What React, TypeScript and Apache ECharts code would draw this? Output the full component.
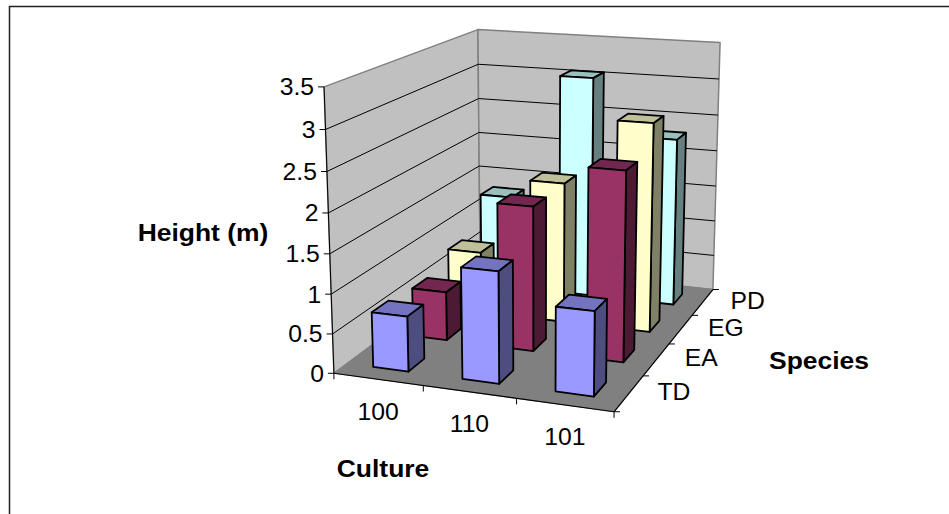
import React, { useEffect, useRef } from "react";
import * as echarts from "echarts";

const cultures = ["100", "110", "101"];
const species = ["TD", "EA", "EG", "PD"];
const valueTicks = [0, 0.5, 1, 1.5, 2, 2.5, 3, 3.5];
const maxValue = 3.5;

const tdHeights = [0.7, 1.39, 1.04];
const eaHeights = [0.64, 1.87, 2.42];
const egHeights = [0.83, 1.88, 2.76];
const pdHeights = [1.3, 3.06, 2.3];
const heights = [tdHeights, eaHeights, egHeights, pdHeights];

const faceColors = ["#9999FF", "#993366", "#FFFFCC", "#CCFFFF"];
const topColors = ["#7373BF", "#732650", "#BFBF99", "#99BFBF"];
const sideColors = ["#4D4D80", "#4D1A33", "#808066", "#668080"];

const barFraction = 0.4;
const FONT = '"Liberation Sans", Arial, sans-serif';

// Calibration of the 3D box: [culture 0..1, species 0..1, height 0..1] -> screen pixel
const calibration: number[][] = [
  [0, 0, 0, 334, 372],
  [0, 0, 1, 324, 87],
  [0, 1, 0, 480, 266],
  [0, 1, 1, 478, 29],
  [1, 1, 0, 713, 288],
  [1, 1, 1, 720, 43],
  [1, 0, 0, 614, 413],
];

function solveCamera(pts: number[][]): number[] {
  const rows: number[][] = [];
  const rhs: number[] = [];
  for (const [X, Y, Z, px, py] of pts) {
    const x = px / 500;
    const y = py / 500;
    rows.push([X, Y, Z, 1, 0, 0, 0, 0, -x * X, -x * Y, -x * Z]);
    rhs.push(x);
    rows.push([0, 0, 0, 0, X, Y, Z, 1, -y * X, -y * Y, -y * Z]);
    rhs.push(y);
  }
  const n = 11;
  const m: number[][] = [];
  for (let i = 0; i < n; i++) {
    const r: number[] = [];
    for (let j = 0; j < n; j++) {
      let s = 0;
      rows.forEach((row) => (s += row[i] * row[j]));
      r.push(s);
    }
    let b = 0;
    rows.forEach((row, k) => (b += row[i] * rhs[k]));
    r.push(b);
    m.push(r);
  }
  for (let c = 0; c < n; c++) {
    let best = c;
    for (let r = c + 1; r < n; r++) if (Math.abs(m[r][c]) > Math.abs(m[best][c])) best = r;
    [m[c], m[best]] = [m[best], m[c]];
    for (let r = 0; r < n; r++) {
      if (r === c) continue;
      const f = m[r][c] / m[c][c];
      for (let j = c; j <= n; j++) m[r][j] -= f * m[c][j];
    }
  }
  return m.map((r, i) => r[n] / r[i]);
}

const cam = solveCamera(calibration);
function project(u: number, v: number, w: number): number[] {
  const d = cam[8] * u + cam[9] * v + cam[10] * w + 1;
  return [
    (500 * (cam[0] * u + cam[1] * v + cam[2] * w + cam[3])) / d,
    (500 * (cam[4] * u + cam[5] * v + cam[6] * w + cam[7])) / d,
  ];
}

const uOf = (i: number) => i / cultures.length;
const vOf = (i: number) => i / species.length;
const wOf = (val: number) => val / maxValue;

function polygon(points: number[][], fill: string, stroke: string, lineWidth: number) {
  return {
    type: "polygon",
    shape: { points },
    style: { fill, stroke, lineWidth, lineJoin: "round" },
  };
}
function segment(a: number[], b: number[], stroke: string, lineWidth: number) {
  return {
    type: "line",
    shape: { x1: a[0], y1: a[1], x2: b[0], y2: b[1] },
    style: { stroke, lineWidth, fill: "none" },
  };
}

function renderBox() {
  const p = project;
  const children: any[] = [
    polygon([p(0, 0, 0), p(0, 0, 1), p(0, 1, 1), p(0, 1, 0)], "#C0C0C0", "#808080", 1.5),
    polygon([p(0, 1, 0), p(0, 1, 1), p(1, 1, 1), p(1, 1, 0)], "#C0C0C0", "#808080", 1.5),
    polygon([p(0, 0, 0), p(0, 1, 0), p(1, 1, 0), p(1, 0, 0)], "#808080", "#808080", 1),
  ];
  valueTicks.slice(1, -1).forEach((t) => {
    const w = wOf(t);
    children.push(segment(p(0, 0, w), p(0, 1, w), "#000", 1));
    children.push(segment(p(0, 1, w), p(1, 1, w), "#000", 1));
  });
  // axis lines
  children.push(segment(p(0, 0, 0), p(0, 0, 1), "#000", 1));
  children.push(segment(p(0, 0, 0), p(1, 0, 0), "#000", 1.2));
  children.push(segment(p(1, 0, 0), p(1, 1, 0), "#000", 1.2));
  // tick marks
  valueTicks.forEach((t) => {
    const a = p(0, 0, wOf(t));
    children.push(segment(a, [a[0] - 6, a[1]], "#000", 1));
  });
  cultures.concat("").forEach((_, i) => {
    const a = p(uOf(i), 0, 0);
    children.push(segment(a, [a[0], a[1] + 6], "#000", 1));
  });
  species.concat("").forEach((_, i) => {
    const a = p(1, vOf(i), 0);
    children.push(segment(a, [a[0] + 6, a[1]], "#000", 1));
  });
  return { type: "group", children };
}

function renderBar(_: any, api: any) {
  const c = api.value(0);
  const s = api.value(1);
  const h = wOf(api.value(2));
  const du = uOf(1);
  const dv = vOf(1);
  const gu = (du * (1 - barFraction)) / 2;
  const gv = (dv * (1 - barFraction)) / 2;
  const u0 = uOf(c) + gu;
  const u1 = uOf(c) + du - gu;
  const v0 = vOf(s) + gv;
  const v1 = vOf(s) + dv - gv;
  const p = project;
  return {
    type: "group",
    children: [
      polygon([p(u0, v0, h), p(u1, v0, h), p(u1, v1, h), p(u0, v1, h)], topColors[s], "#000", 1.8),
      polygon([p(u1, v0, 0), p(u1, v1, 0), p(u1, v1, h), p(u1, v0, h)], sideColors[s], "#000", 1.8),
      polygon([p(u0, v0, 0), p(u1, v0, 0), p(u1, v0, h), p(u0, v0, h)], faceColors[s], "#000", 1.8),
    ],
  };
}

function label(text: string, x: number, y: number, bold = false, align = "center") {
  return {
    type: "text",
    x,
    y,
    scaleX: bold ? 1.08 : 1.03,
    z: 10,
    style: {
      text,
      fill: "#000",
      font: `${bold ? "bold 24.5px" : "24px"} ${FONT}`,
      textAlign: align,
      textVerticalAlign: "middle",
    },
  };
}

export default function App() {
  const ref = useRef<HTMLDivElement>(null);
  useEffect(() => {
    const chart = echarts.init(ref.current!, null, { renderer: "svg" });
    const barData: number[][] = [];
    for (let s = species.length - 1; s >= 0; s--) {
      cultures.forEach((_, c) => barData.push([c, s, heights[s][c]]));
    }
    const texts: any[] = [];
    valueTicks.forEach((t) => {
      const a = project(0, 0, wOf(t));
      texts.push(label(String(t), a[0] - 10, a[1], false, "right"));
    });
    cultures.forEach((c, i) => {
      const a = project(uOf(i) + uOf(1) / 2, 0, 0);
      texts.push(label(c, a[0], a[1] + 32));
    });
    species.forEach((s, i) => {
      const a = project(1, vOf(i) + vOf(1) / 2, 0);
      texts.push(label(s, a[0] + 45, a[1] - 1.5));
    });
    texts.push(label("Height (m)", 203, 232, true));
    texts.push(label("Culture", 383, 468, true));
    texts.push(label("Species", 819, 360, true));
    texts.push({
      type: "polyline",
      z: 11,
      shape: { points: [[9.5, 514], [9.5, 6.5], [949, 6.5]] },
      style: { stroke: "#222", lineWidth: 1.5, fill: "none" },
    });
    chart.setOption({
      animation: false,
      backgroundColor: "#fff",
      graphic: { elements: texts },
      series: [
        {
          type: "custom",
          coordinateSystem: "none",
          silent: true,
          z: 1,
          data: [[0]],
          renderItem: renderBox,
        },
        {
          type: "custom",
          coordinateSystem: "none",
          silent: true,
          z: 2,
          data: barData,
          dimensions: ["culture", "species", "height"],
          encode: { value: 2 },
          renderItem: renderBar,
        },
      ],
    });
    return () => chart.dispose();
  }, []);
  return <div ref={ref} style={{ position: "absolute", left: 0, top: 0, width: 949, height: 514 }} />;
}
